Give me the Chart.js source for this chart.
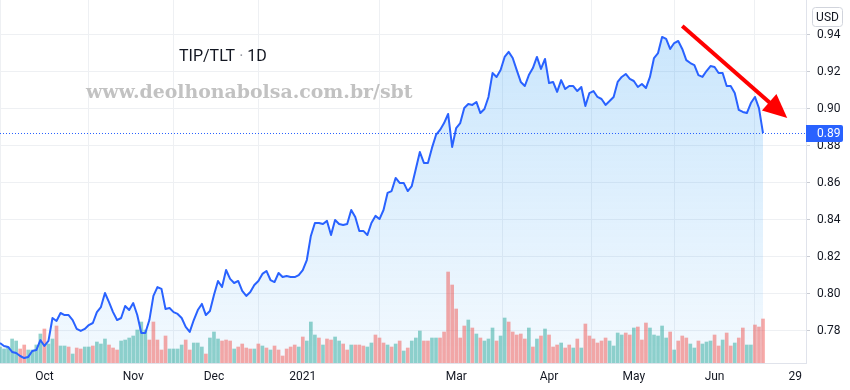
<!DOCTYPE html>
<html>
<head>
<meta charset="utf-8">
<script src="https://cdn.jsdelivr.net/npm/chart.js@4.4.1/dist/chart.umd.min.js"></script>
<style>
  html, body { margin: 0; padding: 0; background: #fff; }
</style>
</head>
<body>
<canvas id="tipTlt" width="850" height="390"></canvas>
<script>
// daily closes of TIP/TLT, one per trading day from 16 Sep 2020 to 17 Jun 2021
var prices = [
  0.7735, 0.7719, 0.7714, 0.7687, 0.7681, 0.7665, 0.7654, 0.7660, 0.7692, 0.7697,
  0.7751, 0.7719, 0.7746, 0.7870, 0.7854, 0.7897, 0.7886, 0.7886, 0.7859, 0.7811,
  0.7800, 0.7811, 0.7832, 0.7843, 0.7902, 0.7929, 0.8005, 0.7956, 0.7902, 0.7859,
  0.7870, 0.7935, 0.7913, 0.7951, 0.7886, 0.7789, 0.7789, 0.7859, 0.7989, 0.8037,
  0.8027, 0.7919, 0.7924, 0.7902, 0.7892, 0.7870, 0.7822, 0.7795, 0.7859, 0.7913,
  0.7946, 0.7886, 0.7908, 0.7994, 0.8070, 0.8037, 0.8129, 0.8081, 0.8059, 0.8070,
  0.8016, 0.7989, 0.8010, 0.8048, 0.8070, 0.8108, 0.8124, 0.8075, 0.8064, 0.8113,
  0.8091, 0.8097, 0.8091, 0.8091, 0.8102, 0.8129, 0.8183, 0.8313, 0.8383, 0.8383,
  0.8377, 0.8394, 0.8318, 0.8399, 0.8377, 0.8372, 0.8377, 0.8453, 0.8415, 0.8340,
  0.8340, 0.8318, 0.8383, 0.8421, 0.8404, 0.8453, 0.8545, 0.8555, 0.8626, 0.8599,
  0.8599, 0.8555, 0.8582, 0.8674, 0.8766, 0.8707, 0.8707, 0.8788, 0.8858, 0.8885,
  0.8922, 0.8971, 0.8793, 0.8895, 0.8922, 0.9003, 0.9025, 0.9020, 0.9036, 0.8976,
  0.8998, 0.9063, 0.9192, 0.9171, 0.9208, 0.9279, 0.9306, 0.9273, 0.9208, 0.9144,
  0.9122, 0.9181, 0.9219, 0.9279, 0.9214, 0.9268, 0.9138, 0.9144, 0.9090, 0.9154,
  0.9106, 0.9122, 0.9122, 0.9095, 0.9117, 0.9014, 0.9084, 0.9095, 0.9063, 0.9052,
  0.9020, 0.9041, 0.9063, 0.9144, 0.9171, 0.9187, 0.9160, 0.9149, 0.9117, 0.9133,
  0.9111, 0.9171, 0.9273, 0.9300, 0.9387, 0.9376, 0.9322, 0.9354, 0.9365, 0.9322,
  0.9262, 0.9246, 0.9235, 0.9181, 0.9171, 0.9203, 0.9230, 0.9225, 0.9192, 0.9192,
  0.9122, 0.9122, 0.9084, 0.8993, 0.8982, 0.8976, 0.9030, 0.9063, 0.9003, 0.8868
];

// volume per day (relative units)
var volumes = [
  16, 14, 16, 24, 22, 14, 18, 13, 13, 18, 29, 34, 19, 24, 37, 17, 17, 16, 9, 15,
  14, 16, 16, 17, 21, 19, 24, 18, 15, 13, 22, 23, 25, 27, 33, 41, 33, 23, 41, 23,
  13, 27, 14, 14, 14, 18, 23, 13, 20, 20, 16, 9, 25, 31, 24, 22, 23, 22, 14, 16,
  19, 15, 14, 14, 19, 17, 15, 13, 17, 13, 7, 14, 16, 18, 16, 26, 22, 41, 28, 25,
  18, 24, 23, 26, 22, 19, 13, 18, 18, 18, 17, 16, 20, 28, 25, 20, 18, 16, 19, 22,
  12, 15, 22, 25, 32, 22, 22, 25, 25, 25, 31, 91, 78, 54, 25, 37, 43, 35, 29, 25,
  22, 24, 35, 22, 27, 45, 41, 31, 28, 29, 24, 35, 16, 24, 27, 34, 28, 16, 18, 20,
  15, 18, 15, 24, 15, 39, 27, 24, 20, 22, 25, 22, 17, 30, 28, 30, 28, 35, 36, 23,
  40, 35, 28, 27, 37, 25, 31, 13, 22, 27, 25, 19, 15, 22, 19, 21, 22, 28, 17, 23,
  30, 17, 20, 25, 35, 18, 18, 38, 36, 44
];

// 1 = up day, 0 = down day
var upDays = [
  1, 1, 1, 1, 1, 0, 0, 1, 1, 1, 1, 0, 1, 1, 0, 1, 1, 0, 1, 0,
  0, 1, 1, 0, 1, 1, 1, 0, 0, 0, 1, 1, 1, 1, 1, 1, 1, 0, 0, 0,
  0, 0, 1, 1, 1, 1, 0, 0, 1, 1, 1, 0, 1, 1, 1, 0, 0, 0, 1, 0,
  0, 0, 0, 1, 0, 1, 0, 1, 0, 0, 0, 0, 0, 0, 1, 0, 1, 1, 1, 0,
  1, 0, 0, 1, 1, 0, 0, 1, 0, 0, 0, 1, 1, 0, 0, 0, 1, 0, 1, 0,
  1, 0, 1, 1, 1, 0, 0, 1, 1, 0, 0, 0, 0, 0, 0, 0, 1, 0, 1, 0,
  1, 1, 1, 0, 1, 1, 0, 0, 0, 0, 0, 1, 0, 1, 0, 1, 0, 0, 0, 1,
  0, 0, 1, 0, 1, 0, 0, 0, 0, 0, 0, 1, 1, 1, 1, 0, 0, 1, 0, 0,
  0, 1, 1, 1, 1, 1, 0, 1, 0, 0, 0, 1, 1, 0, 1, 1, 1, 0, 0, 1,
  0, 0, 1, 0, 0, 1, 1, 0, 0, 0
];

// time axis: trading-day index of each label
var timeTicks = [11, 33, 53, 75, 113, 136, 157, 177, 197];
var timeLabels = ['Oct', 'Nov', 'Dec', '2021', 'Mar', 'Apr', 'May', 'Jun', '29'];
var priceTicks = [0.78, 0.80, 0.82, 0.84, 0.86, 0.88, 0.90, 0.92, 0.94];

// red trend arrow, in (day index, price)
var arrowFrom = [169, 0.9446];
var arrowTo = [195, 0.8949];

var blue = '#2962ff';
var gridColor = '#eef0f3';
var textColor = '#131722';

var overlay = {
  id: 'overlay',
  beforeDatasetsDraw: function (chart) {
    var ctx = chart.ctx;
    ctx.save();
    // watermark
    var wm = 'www.deolhonabolsa.com.br/sbt';
    ctx.font = 'bold 20px "DejaVu Serif"';
    var w = ctx.measureText(wm).width;
    var size = 20 * 326 / w;
    ctx.font = 'bold ' + size.toFixed(1) + 'px "DejaVu Serif"';
    ctx.textBaseline = 'alphabetic';
    ctx.fillStyle = '#ffffff';
    ctx.fillText(wm, 87, 99);
    ctx.fillStyle = '#c2c2c2';
    ctx.fillText(wm, 86, 98);
    // title
    ctx.font = '16px Roboto';
    var x = 179;
    ctx.fillStyle = textColor;
    ctx.fillText('TIP/TLT', x, 61);
    x += ctx.measureText('TIP/TLT').width;
    ctx.fillStyle = '#9598a1';
    ctx.fillText(' · ', x, 61);
    x += ctx.measureText(' · ').width;
    ctx.fillStyle = textColor;
    ctx.fillText('1D', x, 61);
    ctx.restore();
  },
  afterDraw: function (chart) {
    var ctx = chart.ctx;
    var xs = chart.scales.x, ys = chart.scales.y;
    var area = chart.chartArea;
    var last = prices[prices.length - 1];
    var py = Math.round(ys.getPixelForValue(last)) + 0.5;
    ctx.save();
    // last price dotted line
    ctx.strokeStyle = blue;
    ctx.lineWidth = 1;
    ctx.setLineDash([1, 2]);
    ctx.beginPath();
    ctx.moveTo(Math.round(area.left), py);
    ctx.lineTo(area.right, py);
    ctx.stroke();
    ctx.setLineDash([]);
    // last price label
    ctx.fillStyle = blue;
    ctx.beginPath();
    ctx.roundRect(area.right, py - 8.5, 37, 17, [0, 2, 2, 0]);
    ctx.fill();
    ctx.fillStyle = '#ffffff';
    ctx.font = '12px Roboto';
    ctx.textBaseline = 'middle';
    ctx.textAlign = 'left';
    ctx.fillText(last.toFixed(2), area.right + 11, py);
    // currency box
    ctx.strokeStyle = '#d1d4dc';
    ctx.lineWidth = 1;
    ctx.beginPath();
    ctx.roundRect(812.5, 7.5, 30, 19, 3);
    ctx.stroke();
    ctx.fillStyle = textColor;
    ctx.font = '12px Roboto';
    ctx.textAlign = 'center';
    ctx.fillText('USD', 827.5, 17.5);
    // trend arrow
    var x1 = xs.getPixelForValue(arrowFrom[0]), y1 = ys.getPixelForValue(arrowFrom[1]);
    var x2 = xs.getPixelForValue(arrowTo[0]), y2 = ys.getPixelForValue(arrowTo[1]);
    var dx = x2 - x1, dy = y2 - y1, len = Math.sqrt(dx * dx + dy * dy);
    var ux = dx / len, uy = dy / len;
    var head = 24, half = 11;
    var bx = x2 - ux * head, by = y2 - uy * head;
    ctx.strokeStyle = '#ff0000';
    ctx.fillStyle = '#ff0000';
    ctx.lineWidth = 4;
    ctx.beginPath();
    ctx.moveTo(x1, y1);
    ctx.lineTo(bx + ux * 2, by + uy * 2);
    ctx.stroke();
    ctx.beginPath();
    ctx.moveTo(x2, y2);
    ctx.lineTo(bx - uy * half, by + ux * half);
    ctx.lineTo(bx + uy * half, by - ux * half);
    ctx.closePath();
    ctx.fill();
    ctx.restore();
  }
};

var config = {
  data: {
    datasets: [{
      type: 'line',
      label: 'TIP/TLT',
      data: prices.map(function (p, i) { return { x: i, y: p }; }),
      yAxisID: 'y',
      borderColor: blue,
      borderWidth: 2,
      borderJoinStyle: 'round',
      pointRadius: 0,
      tension: 0,
      fill: 'start',
      order: 1,
      backgroundColor: function (context) {
        var area = context.chart.chartArea;
        if (!area) return 'rgba(33,150,243,0.2)';
        var g = context.chart.ctx.createLinearGradient(0, area.top + 35, 0, area.bottom);
        g.addColorStop(0, 'rgba(33,150,243,0.24)');
        g.addColorStop(1, 'rgba(33,150,243,0.05)');
        return g;
      }
    }, {
      type: 'bar',
      label: 'Volume',
      data: volumes.map(function (v, i) { return { x: i, y: v }; }),
      yAxisID: 'vol',
      barThickness: 3,
      order: 2,
      backgroundColor: upDays.map(function (u) {
        return u ? 'rgba(38,166,154,0.5)' : 'rgba(239,83,80,0.5)';
      })
    }]
  },
  options: {
    responsive: false,
    animation: false,
    layout: { padding: 0, autoPadding: false },
    plugins: {
      legend: { display: false },
      tooltip: { enabled: false },
      filler: { drawTime: 'beforeDatasetsDraw' }
    },
    scales: {
      x: {
        type: 'linear',
        min: 0,
        max: 199.65,
        offset: false,
        grid: { color: gridColor, drawTicks: false },
        border: { color: '#e0e3eb' },
        ticks: {
          padding: 7,
          color: textColor,
          font: { family: 'Roboto', size: 12 },
          maxRotation: 0,
          autoSkip: false,
          callback: function (v, i) { return timeLabels[i]; }
        },
        afterBuildTicks: function (s) {
          s.ticks = timeTicks.map(function (v) { return { value: v }; });
        },
        afterFit: function (s) {
          s.height = 27;
          s.paddingLeft = 0;
          s.paddingRight = 0;
        }
      },
      y: {
        type: 'linear',
        position: 'right',
        min: 0.76272,
        max: 0.95862,
        grid: { color: gridColor, tickLength: 4, tickColor: '#c9ccd3' },
        border: { color: '#e0e3eb' },
        ticks: {
          padding: 7,
          color: textColor,
          font: { family: 'Roboto', size: 12 },
          callback: function (v) { return v.toFixed(2); }
        },
        afterBuildTicks: function (s) {
          s.ticks = priceTicks.map(function (v) { return { value: v }; });
        },
        afterFit: function (s) {
          s.width = 44;
          s.paddingTop = 0;
          s.paddingBottom = 0;
        }
      },
      vol: {
        type: 'linear',
        display: false,
        min: 0,
        max: 363
      }
    }
  },
  plugins: [overlay]
};

var tipChart = new Chart(document.getElementById('tipTlt'), config);
</script>
</body>
</html>
